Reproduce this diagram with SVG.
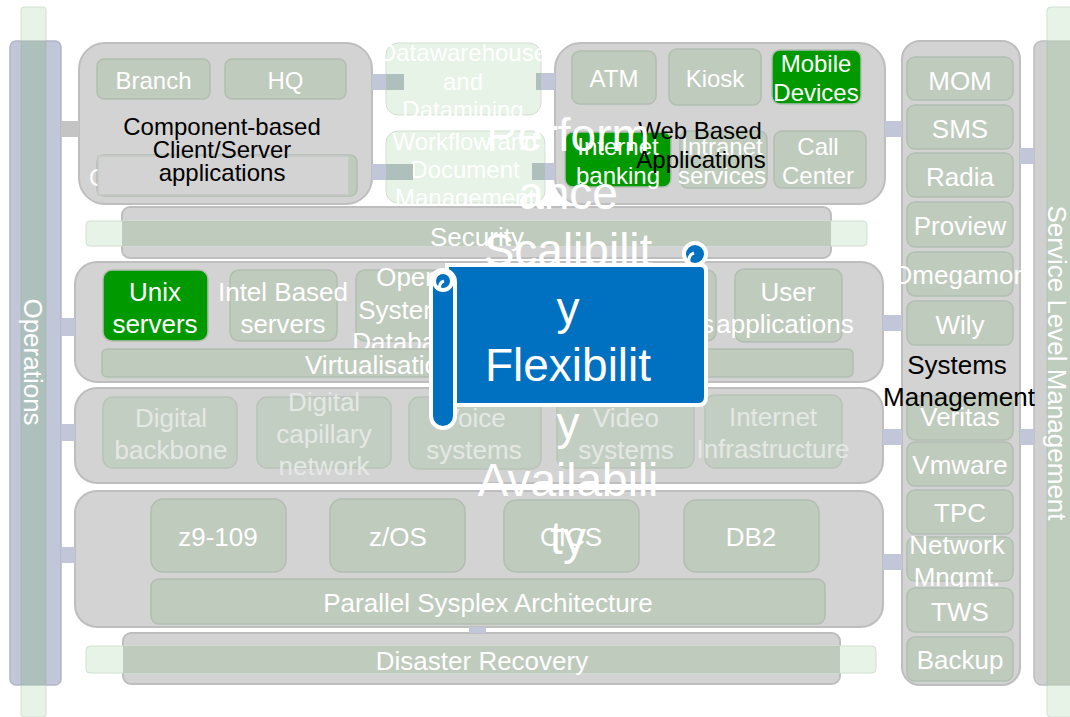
<svg xmlns="http://www.w3.org/2000/svg" width="1070" height="717" viewBox="0 0 1070 717">
<style>
.outer{fill:#d3d3d3;stroke:#bebebe;stroke-width:2}
.item{fill:#bfcbbd;stroke:#b3beb1;stroke-width:1.5}
.itemf{fill:#c3cec2;stroke:#b9c4b8;stroke-width:1.5}
.green{fill:#009900;stroke:#b3beb1;stroke-width:1.5}
.lg{fill:#e6f3e6;stroke:#d2dfd2;stroke-width:1}
.ov{fill:#bfcbbd}
.conn{fill:#c1c7d8}
.connov{fill:#aebfbc}
.t{font-family:"Liberation Sans",Arial,sans-serif;text-anchor:middle;fill:#ffffff}
.s24{font-size:24px}
.s26{font-size:26px}
.blk{fill:#000000}
.faint{fill:#e4e8e4}
.big{font-family:"Liberation Sans",Arial,sans-serif;font-size:46px;text-anchor:middle;fill:#ffffff}
.scroll{fill:#0070c0;stroke:#ffffff;stroke-width:4}
</style>

<g id="operations">
<rect x="10" y="41" width="51" height="644" rx="6" fill="#c1c7d8" stroke="#b1b6c6" stroke-width="1.5"/>
<rect x="21" y="7" width="25" height="710" rx="3" class="lg" stroke="#c6c6c6"/>
<rect x="21" y="41" width="25" height="644" fill="#aec0bc" stroke="#a3b3b1" stroke-width="1"/>
<text class="t s26" transform="translate(33 362) rotate(90)" y="9">Operations</text>
</g>

<g id="service-level-management">
<rect x="1034" y="41" width="50" height="644" rx="8" fill="#d0d0d0" stroke="#bebebe" stroke-width="1.5"/>
<rect x="1047" y="7" width="40" height="710" rx="4" class="lg" stroke="#c6c6c6"/>
<rect x="1047" y="41" width="40" height="644" fill="#bfcdbf" stroke="#b3beb1" stroke-width="1"/>
<text class="t s26" transform="translate(1057 363) rotate(90)" y="9">Service Level Management</text>
</g>

<g id="client-server">
<rect x="79" y="43" width="293" height="161" rx="26" class="outer"/>
<rect x="97" y="59" width="113" height="40" rx="7" class="item"/>
<text class="t s24" x="153.5" y="89.4">Branch</text>
<rect x="225" y="59" width="121" height="40" rx="7" class="item"/>
<text class="t s24" x="285.5" y="89.4">HQ</text>
<rect x="97" y="155" width="260" height="41" rx="7" class="item"/>
<text class="t s24" x="89" y="186" style="text-anchor:start">C</text>
<rect x="98" y="156" width="251" height="39" fill="#d3d3d3" stroke="#c6c6c6" stroke-width="1.5"/>
<text class="t s24 blk" x="222" y="135.4">Component-based</text>
<text class="t s24 blk" x="222" y="158.4">Client/Server</text>
<text class="t s24 blk" x="222" y="181.4">applications</text>
</g>

<g id="datawarehouse">
<rect x="386" y="43" width="155" height="72" rx="12" class="lg"/>
<text class="t s24" x="463" y="61.4">Datawarehouse</text>
<text class="t s24" x="463" y="90.4">and</text>
<text class="t s24" x="463" y="118.4">Datamining</text>
</g>

<g id="workflow">
<rect x="386" y="131" width="159" height="72" rx="12" class="lg"/>
<text class="t s24" x="465" y="150.4">Workflow and</text>
<text class="t s24" x="465" y="178.4">Document</text>
<text class="t s24" x="465" y="206.4">Management</text>
</g>

<g id="web-based">
<rect x="555" y="43" width="330" height="161" rx="26" class="outer"/>
<rect x="572" y="51" width="84" height="53" rx="8" class="item"/>
<text class="t s24" x="614" y="87.4">ATM</text>
<rect x="669" y="49" width="92" height="56" rx="8" class="item"/>
<text class="t s24" x="715" y="87.4">Kiosk</text>
<rect x="772" y="50" width="89" height="54" rx="8" class="green"/>
<text class="t s24" x="816" y="72.4">Mobile</text>
<text class="t s24" x="816" y="101.4">Devices</text>
<rect x="565" y="132" width="106" height="55" rx="8" class="green"/>
<text class="t s24" x="618" y="155.4">Internet</text>
<text class="t s24" x="618" y="184.4">banking</text>
<rect x="680" y="131" width="87" height="57" rx="8" class="item"/>
<text class="t s24" x="722" y="155.4">Intranet</text>
<text class="t s24" x="722" y="184.4">services</text>
<rect x="774" y="131" width="92" height="57" rx="8" class="item"/>
<text class="t s24" x="818" y="155.4">Call</text>
<text class="t s24" x="818" y="184.4">Center</text>
<text class="t s24 blk" x="700" y="139.4">Web Based</text>
<text class="t s24 blk" x="701" y="168.4">Applications</text>
</g>

<g id="security">
<rect x="122" y="207" width="709" height="51" rx="8" class="outer"/>
<rect x="86" y="221" width="781" height="25" rx="4" class="lg"/>
<rect x="122" y="221" width="709" height="25" class="ov"/>
<text class="t s26" x="477" y="246.1">Security</text>
</g>

<g id="servers">
<rect x="75" y="262" width="808" height="120" rx="22" class="outer"/>
<rect x="103" y="270" width="105" height="71" rx="9" class="green"/>
<text class="t s26" x="155" y="301.1">Unix</text>
<text class="t s26" x="155" y="333.1">servers</text>
<rect x="230" y="270" width="107" height="71" rx="9" class="item"/>
<text class="t s26" x="283" y="301.1">Intel Based</text>
<text class="t s26" x="283" y="333.1">servers</text>
<rect x="356" y="270" width="107" height="71" rx="9" class="item"/>
<text class="t s26" x="408" y="286.1">Open</text>
<text class="t s26" x="408" y="319.1">Systems</text>
<text class="t s26" x="408" y="351.1">Database</text>
<rect x="610" y="270" width="106" height="71" rx="9" class="item"/>
<text class="t s26" x="714" y="333.1" style="text-anchor:end">ns</text>
<rect x="735" y="269" width="107" height="73" rx="9" class="item"/>
<text class="t s26" x="788" y="301.1">User</text>
<text class="t s26" x="785" y="333.1">applications</text>
<rect x="102" y="349" width="751" height="28" rx="5" class="item"/>
<text class="t s26" x="305" y="374.1" style="text-anchor:start">Virtualisation</text>
</g>

<g id="network">
<rect x="75" y="388" width="808" height="95" rx="22" class="outer"/>
<rect x="103" y="397" width="134" height="71" rx="10" class="itemf"/>
<text class="t s26 faint" x="171" y="427.1">Digital</text>
<text class="t s26 faint" x="171" y="459.1">backbone</text>
<rect x="257" y="397" width="134" height="71" rx="10" class="itemf"/>
<text class="t s26 faint" x="324" y="411.1">Digital</text>
<text class="t s26 faint" x="324" y="443.1">capillary</text>
<text class="t s26 faint" x="324" y="475.1">network</text>
<rect x="409" y="397" width="132" height="72" rx="10" class="itemf"/>
<text class="t s26 faint" x="474" y="427.1">Voice</text>
<text class="t s26 faint" x="474" y="459.1">systems</text>
<rect x="557" y="395" width="137" height="73" rx="10" class="itemf"/>
<text class="t s26 faint" x="626" y="427.1">Video</text>
<text class="t s26 faint" x="626" y="459.1">systems</text>
<rect x="705" y="395" width="137" height="73" rx="10" class="itemf"/>
<text class="t s26 faint" x="773" y="426.1">Internet</text>
<text class="t s26 faint" x="773" y="458.1">Infrastructure</text>
</g>

<g id="mainframe">
<rect x="75" y="491" width="808" height="136" rx="22" class="outer"/>
<rect x="151" y="499" width="135" height="73" rx="12" class="item"/>
<text class="t s26" x="218" y="546.1">z9-109</text>
<rect x="330" y="499" width="135" height="73" rx="12" class="item"/>
<text class="t s26" x="398" y="546.1">z/OS</text>
<rect x="504" y="500" width="135" height="72" rx="12" class="item"/>
<text class="t s26" x="571" y="546.1">CICS</text>
<rect x="684" y="500" width="135" height="72" rx="12" class="item"/>
<text class="t s26" x="751" y="546.1">DB2</text>
<rect x="151" y="579" width="674" height="45" rx="8" class="item"/>
<text class="t s26" x="488" y="612.1">Parallel Sysplex Architecture</text>
</g>

<g id="disaster-recovery">
<rect x="123" y="633" width="717" height="51" rx="8" class="outer"/>
<rect x="86" y="646" width="790" height="27" rx="4" class="lg"/>
<rect x="123" y="646" width="717" height="27" class="ov"/>
<text class="t s26" x="482" y="670.1">Disaster Recovery</text>
</g>

<g id="systems-management">
<rect x="902" y="41" width="118" height="644" rx="18" class="outer"/>
<rect x="907" y="57" width="106" height="43" rx="8" class="item"/>
<text class="t s26" x="960" y="90.1">MOM</text>
<rect x="907" y="105" width="106" height="44" rx="8" class="item"/>
<text class="t s26" x="960" y="138.1">SMS</text>
<rect x="907" y="153" width="106" height="44" rx="8" class="item"/>
<text class="t s26" x="960" y="186.1">Radia</text>
<rect x="907" y="202" width="106" height="45" rx="8" class="item"/>
<text class="t s26" x="960" y="235.1">Proview</text>
<rect x="907" y="252" width="106" height="44" rx="8" class="item"/>
<text class="t s26" x="960" y="284.1">Omegamon</text>
<rect x="907" y="301" width="106" height="44" rx="8" class="item"/>
<text class="t s26" x="960" y="334.1">Wily</text>
<rect x="907" y="396" width="106" height="44" rx="8" class="item"/>
<text class="t s26" x="960" y="426.1">Veritas</text>
<rect x="907" y="442" width="106" height="44" rx="8" class="item"/>
<text class="t s26" x="960" y="474.1">Vmware</text>
<rect x="907" y="490" width="106" height="44" rx="8" class="item"/>
<text class="t s26" x="960" y="522.1">TPC</text>
<rect x="907" y="537" width="106" height="44" rx="8" class="item"/>
<text class="t s26" x="957" y="554.1">Network</text>
<text class="t s26" x="957" y="586.1">Mngmt.</text>
<rect x="907" y="588" width="106" height="44" rx="8" class="item"/>
<text class="t s26" x="960" y="621.1">TWS</text>
<rect x="907" y="637" width="106" height="44" rx="8" class="item"/>
<text class="t s26" x="960" y="669.1">Backup</text>
<text class="t s26 blk" x="957" y="374.1">Systems</text>
<text class="t s26 blk" x="959" y="406.1">Management</text>
</g>

<g id="connectors">
<rect x="61" y="121" width="18" height="16" fill="#c4c4c4"/>
<rect x="372" y="74" width="14" height="16" class="conn"/>
<rect x="386" y="74" width="18" height="16" class="connov"/>
<rect x="372" y="164" width="14" height="16" class="conn"/>
<rect x="386" y="164" width="27" height="16" class="connov"/>
<rect x="541" y="73" width="14" height="17" class="conn"/>
<rect x="536" y="73" width="5" height="17" class="connov"/>
<rect x="545" y="163" width="10" height="17" class="conn"/>
<rect x="532" y="163" width="13" height="17" class="connov"/>
<rect x="885" y="121" width="17" height="16" class="conn"/>
<rect x="1020" y="148" width="14" height="16" class="conn"/>
<rect x="61" y="318" width="14" height="18" class="conn"/>
<rect x="883" y="315" width="19" height="16" class="conn"/>
<rect x="61" y="424" width="14" height="17" class="conn"/>
<rect x="883" y="429" width="19" height="16" class="conn"/>
<rect x="1020" y="429" width="14" height="16" class="conn"/>
<rect x="61" y="547" width="14" height="16" class="conn"/>
<rect x="883" y="554" width="19" height="16" class="conn"/>
<rect x="469" y="627" width="17" height="6" class="conn"/>
</g>

<g id="scroll">
<path class="scroll" d="M447 265 H700 Q706 265 706 271 V397 Q706 405 698 405 H447 Z"/>
<circle class="scroll" cx="695" cy="254" r="11"/>
<path d="M689 262 Q688 255 694 253" fill="none" stroke="#ffffff" stroke-width="3"/>
<rect class="scroll" x="431" y="270" width="24" height="158" rx="12"/>
<circle class="scroll" cx="443" cy="281" r="9" stroke-width="3.5"/>
<path d="M440 290 Q438 283 444 281" fill="none" stroke="#ffffff" stroke-width="3"/>
</g>

<g id="qualities">
<text class="big" x="568" y="151">Perform</text>
<text class="big" x="568" y="208.5">ance</text>
<text class="big" x="568" y="266">Scalibilit</text>
<text class="big" x="568" y="323.5">y</text>
<text class="big" x="568" y="381">Flexibilit</text>
<text class="big" x="568" y="438.5">y</text>
<text class="big" x="568" y="496">Availabili</text>
<text class="big" x="568" y="553.5">ty</text>
</g>
</svg>
